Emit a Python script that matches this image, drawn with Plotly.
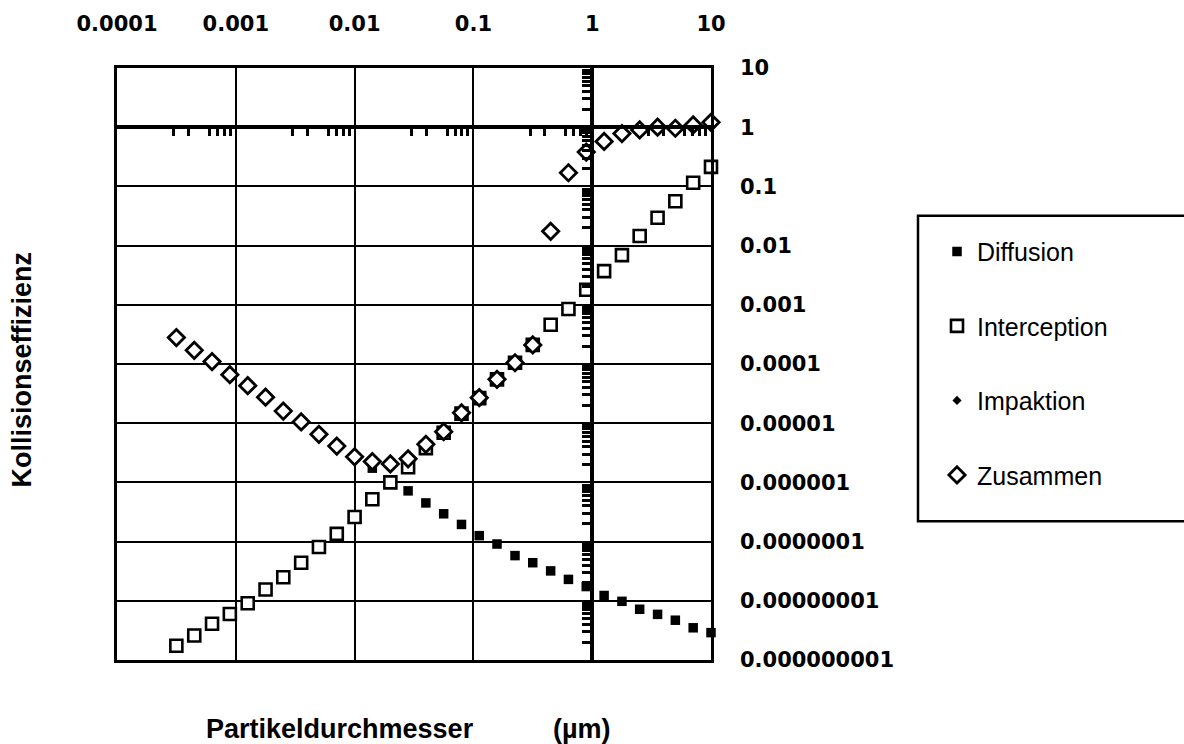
import plotly.graph_objects as go

# Particle diameter (µm)
durchmesser = [0.000316, 0.000447, 0.000631, 0.000891, 0.00126, 0.00178, 0.00251, 0.00355,
               0.00501, 0.00708, 0.01, 0.0141, 0.02, 0.0282, 0.0398, 0.0562, 0.0794, 0.112,
               0.158, 0.224, 0.316, 0.447, 0.631, 0.891, 1.26, 1.78, 2.51, 3.55, 5.01, 7.08, 10.0]

# Diffusion is plotted from 0.0141 µm on
diff_x = [0.0141, 0.02, 0.0282, 0.0398, 0.0562, 0.0794, 0.112, 0.158, 0.224, 0.316,
          0.447, 0.631, 0.891, 1.26, 1.78, 2.51, 3.55, 5.01, 7.08, 10.0]
diffusion = [1.74e-6, 1.07e-6, 7.2e-7, 4.5e-7, 2.95e-7, 1.95e-7, 1.26e-7, 9.1e-8, 5.8e-8, 4.4e-8,
             3.2e-8, 2.3e-8, 1.74e-8, 1.23e-8, 9.8e-9, 7.2e-9, 5.9e-9, 4.7e-9, 3.5e-9, 2.9e-9]

interception = [1.74e-9, 2.6e-9, 4.1e-9, 6.0e-9, 9.1e-9, 1.55e-8, 2.5e-8, 4.4e-8,
                8.1e-8, 1.35e-7, 2.6e-7, 5.2e-7, 1.0e-6, 1.8e-6, 3.8e-6, 6.9e-6, 1.45e-5, 2.65e-5,
                5.5e-5, 1.05e-4, 2.1e-4, 4.6e-4, 8.5e-4, 1.8e-3, 3.7e-3, 6.9e-3, 0.0145, 0.0295,
                0.056, 0.115, 0.214]

# Impaction only reaches the plotted range from 0.447 µm on
imp_x = [0.447, 0.631, 0.891, 1.26, 1.78, 2.51, 3.55, 5.01, 7.08, 10.0]
impaktion = [0.0169, 0.169, 0.378, 0.571, 0.773, 0.886, 0.97, 0.904, 0.975, 0.996]

zusammen = [2.8e-4, 1.7e-4, 1.1e-4, 6.6e-5, 4.3e-5, 2.75e-5, 1.6e-5, 1.05e-5,
            6.5e-6, 4.1e-6, 2.7e-6, 2.25e-6, 2.05e-6, 2.5e-6, 4.4e-6, 7.2e-6, 1.5e-5, 2.7e-5,
            5.5e-5, 1.05e-4, 2.1e-4, 0.0174, 0.17, 0.38, 0.575, 0.78, 0.90, 1.0,
            0.96, 1.09, 1.21]

x_tickvals = [0.0001, 0.001, 0.01, 0.1, 1, 10]
x_ticktext = ["0.0001", "0.001", "0.01", "0.1", "1", "10"]
y_tickvals = [1e-9, 1e-8, 1e-7, 1e-6, 1e-5, 1e-4, 1e-3, 1e-2, 1e-1, 1, 10]
y_ticktext = ["0.000000001", "0.00000001", "0.0000001", "0.000001", "0.00001", "0.0001",
              "0.001", "0.01", "0.1", "1", "10"]

W, H = 1184, 744
L, R, T, B = 117, 711, 63, 660

def px(xp):
    return (xp - L) / (R - L)

def py(yp):
    return (B - yp) / (B - T)

tick_font = dict(family="DejaVu Sans", size=21, color="black", weight="bold")
title_font = dict(family="Liberation Sans", size=27, color="black", weight="bold")

fig = go.Figure()
# empty traces so that the crossing axes at x=1 and y=1 are drawn
fig.add_trace(go.Scatter(x=[], y=[], xaxis="x2", yaxis="y", showlegend=False, hoverinfo="skip"))
fig.add_trace(go.Scatter(x=[], y=[], xaxis="x", yaxis="y2", showlegend=False, hoverinfo="skip"))

fig.add_trace(go.Scatter(x=diff_x, y=diffusion, mode="markers", name="Diffusion",
                         legendgroup="a", cliponaxis=False,
                         marker=dict(symbol="square", size=9.5, color="black", line=dict(width=0))))
fig.add_trace(go.Scatter(x=durchmesser, y=interception, mode="markers", name="Interception",
                         legendgroup="b", cliponaxis=False,
                         marker=dict(symbol="square", size=12, color="white",
                                     line=dict(width=2.6, color="black"))))
fig.add_trace(go.Scatter(x=imp_x, y=impaktion, mode="markers", name="Impaktion",
                         legendgroup="c", cliponaxis=False,
                         marker=dict(symbol="diamond", size=7, color="black", line=dict(width=0))))
fig.add_trace(go.Scatter(x=durchmesser, y=zusammen, mode="markers", name="Zusammen",
                         legendgroup="d", cliponaxis=False,
                         marker=dict(symbol="diamond", size=12.5, color="white",
                                     line=dict(width=2.8, color="black"))))

fig.update_layout(
    width=W, height=H,
    margin=dict(l=L, r=W - R, t=T, b=H - B, pad=0),
    paper_bgcolor="white", plot_bgcolor="white",
    showlegend=True,
    xaxis=dict(type="log", range=[-4, 1], side="top", tickvals=x_tickvals, ticktext=x_ticktext,
               tickfont=tick_font, ticks="", ticklabelstandoff=26,
               showgrid=True, gridcolor="black", gridwidth=2,
               showline=True, mirror=True, linecolor="black", linewidth=2.5, zeroline=False),
    yaxis=dict(type="log", range=[-9, 1], side="right", tickvals=y_tickvals, ticktext=y_ticktext,
               tickfont=tick_font, ticks="", ticklabelstandoff=22,
               showgrid=True, gridcolor="black", gridwidth=2,
               showline=True, mirror=True, linecolor="black", linewidth=2.5, zeroline=False),
    xaxis2=dict(type="log", range=[-4, 1], overlaying="x", anchor="free", position=0.9,
                side="bottom", showline=True, linecolor="black", linewidth=3.5,
                showgrid=False, showticklabels=False, ticks="", zeroline=False,
                minor=dict(ticks="outside", ticklen=7, tickwidth=2.5, tickcolor="black", dtick="D1")),
    yaxis2=dict(type="log", range=[-9, 1], overlaying="y", anchor="free", position=0.8,
                side="left", showline=True, linecolor="black", linewidth=3.5,
                showgrid=False, showticklabels=False, ticks="", zeroline=False,
                minor=dict(ticks="outside", ticklen=8, tickwidth=2.5, tickcolor="black", dtick="D1")),
    legend=dict(x=px(937), y=py(225), xanchor="left", yanchor="top",
                font=dict(family="Liberation Sans", size=25, color="black"),
                bgcolor="rgba(0,0,0,0)", borderwidth=0, tracegroupgap=39,
                traceorder="grouped", itemsizing="trace"),
    shapes=[dict(type="rect", xref="paper", yref="paper",
                 x0=px(918), x1=px(1210), y0=py(520), y1=py(212),
                 line=dict(color="black", width=2.5), fillcolor="rgba(0,0,0,0)", layer="below")],
    annotations=[
        dict(text="Kollisionseffizienz", xref="paper", yref="paper", x=px(22), y=py(367),
             textangle=-90, showarrow=False, font=title_font, xanchor="center", yanchor="middle"),
        dict(text="Partikeldurchmesser", xref="paper", yref="paper", x=px(340), y=py(730),
             showarrow=False, font=title_font, xanchor="center", yanchor="middle"),
        dict(text="(µm)", xref="paper", yref="paper", x=px(582), y=py(730),
             showarrow=False, font=title_font, xanchor="center", yanchor="middle"),
    ],
)

fig.write_html("out.html")
